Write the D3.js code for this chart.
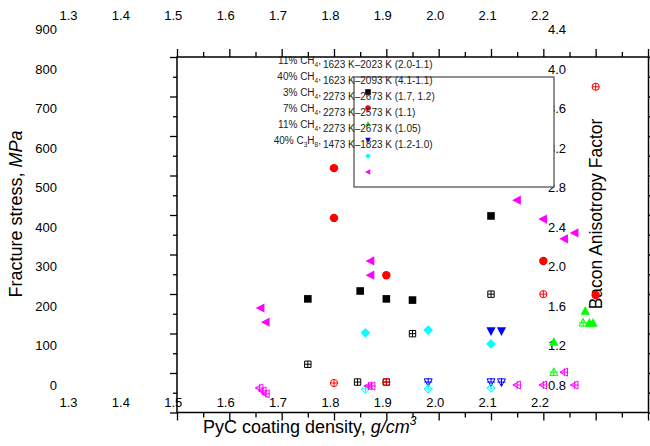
<!DOCTYPE html>
<html>
<head>
<meta charset="utf-8">
<script src="https://cdn.jsdelivr.net/npm/d3@7"></script>
<style>
body { margin: 0; background: #fff; }
text { font-family: "Liberation Sans", Arial, sans-serif; fill: #000; }
</style>
</head>
<body>
<div id="chart"></div>
<script>
// tick labels
var densityLabels = [1.3, 1.4, 1.5, 1.6, 1.7, 1.8, 1.9, 2.0, 2.1, 2.2];
var stressLabels = [0, 100, 200, 300, 400, 500, 600, 700, 800, 900];
var baconLabels = [0.8, 1.2, 1.6, 2.0, 2.4, 2.8, 3.2, 3.6, 4.0, 4.4];

// [density, fracture stress MPa] - filled symbols
var stress11CH4a = [[1.75, 218], [1.85, 238], [1.90, 218], [1.95, 215], [2.10, 428]];
var stress40CH4 = [[1.80, 549], [1.80, 423], [1.90, 278], [2.20, 314], [2.30, 228]];
var stress3CH4 = [[2.22, 109], [2.28, 187], [2.288, 157], [2.295, 157]];
var stress7CH4 = [[2.10, 137], [2.12, 137]];
var stress11CH4b = [[1.86, 132], [1.98, 139], [2.10, 104]];
var stressC3H8 = [[1.66, 195], [1.67, 159], [1.87, 314], [1.87, 278], [2.15, 468], [2.20, 420], [2.24, 370], [2.26, 385]];

// [density, Bacon anisotropy factor] - open symbols
var bacon11CH4a = [[1.75, 1.01], [1.845, 0.83], [1.90, 0.83], [1.95, 1.32], [2.10, 1.72]];
var bacon40CH4 = [[1.80, 0.82], [1.90, 0.83], [2.20, 1.72], [2.30, 3.82]];
var bacon3CH4 = [[2.22, 0.93], [2.276, 1.43]];
var bacon7CH4 = [[1.98, 0.83], [2.10, 0.83], [2.12, 0.83]];
var bacon11CH4b = [[1.86, 0.76], [1.98, 0.76], [2.10, 0.77]];
var baconC3H8 = [[1.658, 0.77], [1.664, 0.74], [1.67, 0.71], [1.866, 0.79], [1.872, 0.79], [2.15, 0.80], [2.20, 0.80], [2.24, 0.93], [2.26, 0.80]];

// legend text
var legendGas = [["11% CH", "4"], ["40% CH", "4"], ["3% CH", "4"], ["7% CH", "4"], ["11% CH", "4"], ["40% C", "3", "H", "8"]];
var legendRange = ["1623 K\u20132023 K (2.0-1.1)", "1623 K\u20132093 K (4.1-1.1)", "2273 K\u20132673 K (1.7, 1.2)",
	"2273 K\u20132573 K (1.1)", "2273 K\u20132673 K (1.05)", "1473 K\u20131823 K (1.2-1.0)"];

var series = [
	{stress: stress11CH4a, bacon: bacon11CH4a, shape: "square", color: "#000000", r: 3.8},
	{stress: stress40CH4, bacon: bacon40CH4, shape: "circle", color: "#ff0000", r: 4.2},
	{stress: stress3CH4, bacon: bacon3CH4, shape: "up", color: "#00ff00", r: 4.6},
	{stress: stress7CH4, bacon: bacon7CH4, shape: "down", color: "#0000ff", r: 4.6},
	{stress: stress11CH4b, bacon: bacon11CH4b, shape: "diamond", color: "#00ffff", r: 4.8},
	{stress: stressC3H8, bacon: baconC3H8, shape: "left", color: "#ff00ff", r: 4.6}
];

var svg = d3.select("#chart")
	.append("svg")
	.attr("width", 650)
	.attr("height", 446);

// frame scales (where the marks sit)
var x = d3.scaleLinear().domain([1.5, 2.4]).range([177, 648]);
var frameY = d3.scaleLinear().domain([0, 18]).range([412.5, 57]);
// value scales read against the printed labels
var xLab = d3.scaleLinear().domain([1.3, 2.2]).range([68.5, 540]);
var yStress = d3.scaleLinear().domain([0, 900]).range([385, 29.5]);
var yBacon = d3.scaleLinear().domain([0.8, 4.4]).range([385, 29.5]);

function shapePath(shape, r) {
	if (shape == "square") return "M" + (-r) + "," + (-r) + "h" + 2 * r + "v" + 2 * r + "h" + (-2 * r) + "Z";
	if (shape == "circle") return "M" + r + ",0A" + r + "," + r + " 0 1,1 " + (-r) + ",0A" + r + "," + r + " 0 1,1 " + r + ",0Z";
	if (shape == "up") return "M0," + (-1.1 * r) + "L" + r + "," + (0.8 * r) + "L" + (-r) + "," + (0.8 * r) + "Z";
	if (shape == "down") return "M0," + (1.1 * r) + "L" + r + "," + (-0.8 * r) + "L" + (-r) + "," + (-0.8 * r) + "Z";
	if (shape == "diamond") return "M0," + (-r) + "L" + r + ",0L0," + r + "L" + (-r) + ",0Z";
	if (shape == "left") return "M" + (-1.1 * r) + ",0L" + (0.8 * r) + "," + (-r) + "L" + (0.8 * r) + "," + r + "Z";
}
function crossPath(r) {
	return "M" + (-r) + ",0H" + r + "M0," + (-r) + "V" + r;
}

// frame ticks
function ticks(axis, values, size, tr) {
	var g = svg.append("g").attr("transform", tr)
		.call(axis.tickValues(values).tickSize(size).tickSizeOuter(0).tickFormat(""));
	g.select(".domain").remove();
	g.selectAll("line").attr("stroke", "#000").attr("stroke-width", 1.3);
}
var xMajor = d3.range(1.5, 2.41, 0.1), xMinor = d3.range(1.55, 2.4, 0.1);
var yMajor = d3.range(0, 19, 2), yMinor = d3.range(1, 18, 2);
ticks(d3.axisBottom(x), xMajor, 8, "translate(0,412.5)");
ticks(d3.axisBottom(x), xMinor, 5, "translate(0,412.5)");
ticks(d3.axisBottom(x), xMajor, -8, "translate(0,57)");
ticks(d3.axisBottom(x), xMinor, -5, "translate(0,57)");
ticks(d3.axisLeft(frameY), yMajor, 7, "translate(177,0)");
ticks(d3.axisLeft(frameY), yMinor, 4, "translate(177,0)");
ticks(d3.axisLeft(frameY), yMajor, -7, "translate(648.5,0)");
ticks(d3.axisLeft(frameY), yMinor, -4, "translate(648.5,0)");

svg.append("rect")
	.attr("x", 177).attr("y", 57)
	.attr("width", 471.5).attr("height", 355.5)
	.attr("fill", "none").attr("stroke", "#000").attr("stroke-width", 1.5);

// printed tick labels
svg.selectAll(".xtop").data(densityLabels).enter().append("text")
	.attr("x", function(d) { return xLab(d); }).attr("y", 15.5).attr("dy", "0.35em")
	.attr("text-anchor", "middle").style("font-size", "13px")
	.text(function(d) { return d.toFixed(1); });
svg.selectAll(".xbot").data(densityLabels).enter().append("text")
	.attr("x", function(d) { return xLab(d); }).attr("y", 402).attr("dy", "0.35em")
	.attr("text-anchor", "middle").style("font-size", "13px")
	.text(function(d) { return d.toFixed(1); });
svg.selectAll(".yleft").data(stressLabels).enter().append("text")
	.attr("x", 57).attr("y", function(d) { return yStress(d); }).attr("dy", "0.35em")
	.attr("text-anchor", "end").style("font-size", "13px")
	.text(function(d) { return d; });
svg.selectAll(".yright").data(baconLabels).enter().append("text")
	.attr("x", 548).attr("y", function(d) { return yBacon(d); }).attr("dy", "0.35em")
	.attr("text-anchor", "start").style("font-size", "13px")
	.text(function(d) { return d.toFixed(1); });

// axis titles
var lt = svg.append("text")
	.attr("transform", "translate(22,214) rotate(-90)")
	.attr("text-anchor", "middle").style("font-size", "18px");
lt.append("tspan").text("Fracture stress, ");
lt.append("tspan").style("font-style", "italic").text("MPa");

var bt = svg.append("text")
	.attr("x", 203).attr("y", 433).style("font-size", "18px");
bt.append("tspan").text("PyC coating density, ");
bt.append("tspan").style("font-style", "italic").text("g/cm");
bt.append("tspan").style("font-style", "italic").style("font-size", "12px").attr("dy", -8).text("3");

svg.append("text")
	.attr("transform", "translate(602,214) rotate(-90)")
	.attr("text-anchor", "middle").style("font-size", "17.5px")
	.text("Bacon Anisotropy Factor");

// marks
series.forEach(function(s) {
	svg.selectAll(null).data(s.bacon).enter().append("path")
		.attr("transform", function(d) { return "translate(" + x(d[0]) + "," + yBacon(d[1]) + ")"; })
		.attr("d", shapePath(s.shape, s.r - 0.6) + crossPath(s.r - 0.6))
		.attr("fill", "none").attr("stroke", s.color).attr("stroke-width", 1);
});
series.forEach(function(s) {
	svg.selectAll(null).data(s.stress).enter().append("path")
		.attr("transform", function(d) { return "translate(" + x(d[0]) + "," + yStress(d[1]) + ")"; })
		.attr("d", shapePath(s.shape, s.r))
		.attr("fill", s.color);
});

// legend
svg.append("rect")
	.attr("x", 354).attr("y", 77).attr("width", 200).attr("height", 110)
	.attr("fill", "#fff").attr("stroke", "#555").attr("stroke-width", 1.3);

series.forEach(function(s, i) {
	svg.append("path")
		.attr("transform", "translate(368," + (92 + i * 16) + ")")
		.attr("d", shapePath(s.shape, 2.8))
		.attr("fill", s.color);
});

legendGas.forEach(function(parts, i) {
	var t = svg.append("text")
		.attr("x", 321).attr("y", 64 + i * 16).attr("dy", "0.35em")
		.attr("text-anchor", "end").style("font-size", "10px").style("fill", "#222");
	parts.forEach(function(p, j) {
		if (j % 2 == 1) {
			t.append("tspan").style("font-size", "6.5px").attr("dy", 2.5).text(p);
		} else {
			t.append("tspan").attr("dy", j == 0 ? 0 : -2.5).text(p);
		}
	});
	t.append("tspan").attr("dy", -2.5).text(", ");
	svg.append("text")
		.attr("x", 323).attr("y", 64 + i * 16).attr("dy", "0.35em")
		.style("font-size", "10px").style("fill", "#222")
		.text(legendRange[i]);
});
</script>
</body>
</html>
